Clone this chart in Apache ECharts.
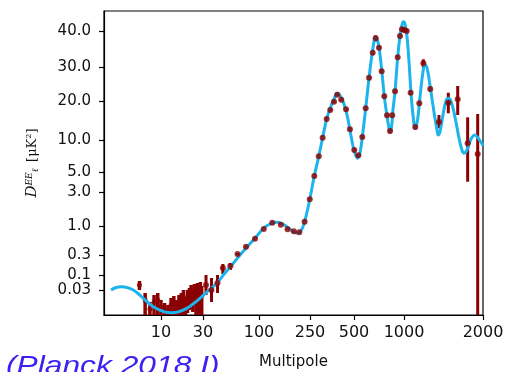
<!DOCTYPE html>
<html>
<head>
<meta charset="utf-8">
<script src="https://cdn.jsdelivr.net/npm/echarts@6/dist/echarts.min.js"></script>
<style>html,body{margin:0;padding:0;background:#fff}#c{width:505px;height:372px}</style>
</head>
<body>
<div id="c"></div>
<script>
// ---- data (multipole ell, D_ell^EE in muK^2) ----
const tickX = [10, 30, 100, 250, 500, 1000, 2000];
const tickXLabels = ['10', '30', '100', '250', '500', '1000', '2000'];
const tickY = [0.03, 0.1, 0.3, 1, 3, 5, 10, 20, 30, 40];
const tickYLabels = ['0.03', '0.1', '0.3', '1.0', '3.0', '5.0', '10.0', '20.0', '30.0', '40.0'];

// theory curve
const curveEll = [2, 2.35, 2.82, 3.35, 4.10, 4.77, 5.66, 6.58, 7.80, 9.68, 11.1, 13.2, 15.6, 19.6, 23.1, 27.7, 33.4, 40.3, 48.1, 57.5, 66.5, 78.9, 93.8, 109, 122, 136, 151, 168, 184, 197, 209, 220, 233, 249, 267.5, 287, 305, 325, 344, 365, 384, 407.5, 427, 448, 469, 492, 510.5, 526, 543, 561, 588, 616, 648, 675, 702, 734, 761, 790, 812, 824, 841, 858, 883, 916, 946, 972, 990, 1009, 1027, 1045, 1063, 1082, 1104, 1126, 1151, 1181, 1202, 1224, 1259, 1301, 1336, 1351, 1371, 1408, 1445, 1475, 1510, 1564, 1620, 1663, 1693, 1738, 1800, 1864, 1914, 1977, 2000];
const curveD = [0.03, 0.0367, 0.0391, 0.0367, 0.03, 0.0217, 0.01397, 0.00949, 0.00644, 0.00475, 0.00396, 0.00371, 0.00396, 0.00556, 0.00826, 0.01397, 0.02736, 0.0514, 0.1116, 0.190, 0.30, 0.436, 0.633, 0.920, 1.067, 1.127, 1.084, 0.940, 0.796, 0.748, 0.779, 0.959, 1.381, 2.37, 4.51, 7.02, 10.59, 15.38, 18.21, 20.59, 22.26, 21.18, 19.23, 16.41, 12.56, 8.78, 7.23, 6.73, 7.55, 10.77, 18.13, 26.85, 34.72, 38.25, 36.39, 29.12, 21.38, 16.15, 13.08, 12.13, 13.33, 17.69, 22.85, 32.69, 38.61, 41.67, 42.58, 41.94, 38.33, 31.39, 22.65, 16.41, 13.0, 15.13, 21.18, 28.53, 30.56, 29.71, 24.12, 17.18, 12.56, 11.28, 12.05, 16.41, 20.0, 20.79, 20.0, 15.90, 10.51, 8.05, 7.50, 8.05, 10.26, 11.28, 10.51, 9.31, 8.78];

// low-ell individual multipoles (value, lower and upper end of error bar)
const lowEll = [5, 6, 7, 8, 9, 10, 11, 12, 13, 14, 15, 16, 17, 18, 19, 20, 21, 22, 23, 24, 25, 26, 27, 28, 29];
const lowD   = [0.0448, 0.01194, 0.00521, 0.00993, 0.01194, 0.00627, 0.00475, 0.00434, 0.00754, 0.00906, 0.00627, 0.00993, 0.01194, 0.01574, 0.00826, 0.0109, 0.0131, 0.01726, 0.01194, 0.0189, 0.01726, 0.01726, 0.02076, 0.0228, 0.01726];
const lowLo  = [0.03, 0.001, 0.001, 0.001, 0.001, 0.001, 0.001, 0.001, 0.001, 0.001, 0.001, 0.001, 0.001, 0.001, 0.001, 0.0036, 0.00475, 0.00627, 0.00396, 0.00688, 0.001, 0.00475, 0.001, 0.001, 0.001];
const lowHi  = [0.0618, 0.0228, 0.00993, 0.0189, 0.0228, 0.01194, 0.00906, 0.00754, 0.01436, 0.01726, 0.01194, 0.0189, 0.0228, 0.03, 0.01574, 0.03, 0.0352, 0.0448, 0.0352, 0.0486, 0.0414, 0.0526, 0.0448, 0.057, 0.0414];

// binned high-ell data
const binEll = [32, 36, 41, 46, 54, 63, 75.6, 91.8, 109, 127, 148, 167, 187, 206, 227, 249, 267.5, 287, 305, 325, 344, 365, 384, 409, 441, 469, 502, 531, 561, 588, 616, 648, 675, 707, 734, 761, 790, 824, 850, 883, 916, 946, 972, 1003, 1024, 1060, 1104, 1144, 1185, 1259, 1359, 1475, 1602, 1748, 1909];
const binD   = [0.0448, 0.03, 0.0526, 0.147, 0.164, 0.313, 0.424, 0.59, 0.883, 1.112, 1.043, 0.872, 0.80, 0.77, 1.149, 2.37, 4.51, 7.02, 10.59, 15.38, 17.69, 19.82, 21.85, 20.38, 17.87, 12.74, 8.05, 7.18, 10.77, 18.13, 26.85, 33.97, 37.97, 35.36, 28.74, 21.38, 16.33, 12.31, 16.33, 22.85, 32.69, 38.61, 40.47, 40.28, 40.0, 22.44, 13.33, 19.41, 31.03, 23.53, 14.62, 19.56, 20.5, 9.31, 7.38];
const binLo  = [0.0189, 0.00993, 0.0228, 0.1056, 0.1316, 0.30, 0.41, 0.575, 0.87, 1.10, 1.03, 0.86, 0.79, 0.76, 1.13, 2.33, 4.45, 6.9, 10.4, 15.1, 17.4, 19.5, 21.5, 20.0, 17.5, 12.4, 7.9, 7.0, 10.5, 17.8, 26.4, 33.4, 37.1, 34.8, 28.2, 21.0, 16.0, 11.7, 16.0, 22.4, 32.1, 38.0, 39.7, 39.6, 39.4, 21.9, 12.7, 18.9, 29.6, 22.8, 13.0, 16.85, 16.41, 3.9, 0.001];
const binHi  = [0.1, 0.0786, 0.1, 0.183, 0.193, 0.325, 0.44, 0.605, 0.90, 1.125, 1.056, 0.885, 0.81, 0.78, 1.17, 2.41, 4.57, 7.15, 10.8, 15.6, 18.0, 20.1, 22.2, 20.8, 18.2, 13.1, 8.2, 7.35, 11.0, 18.5, 27.3, 34.5, 38.8, 35.9, 29.3, 21.8, 16.7, 12.9, 16.7, 23.3, 33.3, 39.2, 41.2, 41.0, 40.6, 23.0, 13.9, 19.9, 32.14, 24.3, 16.41, 22.44, 24.41, 15.82, 16.67];

// ---- custom axis scales (piecewise between the tick marks) ----
const X_ANCHORS = [[2, 7], [10, 57], [30, 99], [100, 155], [250, 206], [500, 250], [1000, 300], [2000, 379]];
const Y_ANCHORS = [[0.003, 0], [0.03, 25], [0.1, 40], [0.3, 60], [1, 89], [3, 123], [5, 143], [10, 175], [20, 214], [30, 248], [40, 284]];
const X_MAX = 379, Y_MAX = 304;

function fx(l) {
  const A = X_ANCHORS; let i = 0;
  while (i < A.length - 2 && l > A[i + 1][0]) i++;
  const [l0, p0] = A[i], [l1, p1] = A[i + 1];
  return p0 + (p1 - p0) * Math.log(l / l0) / Math.log(l1 / l0);
}
function fy(d) {
  const A = Y_ANCHORS; let i = 0;
  while (i < A.length - 2 && d > A[i + 1][0]) i++;
  const [d0, p0] = A[i], [d1, p1] = A[i + 1];
  if (d0 >= 10) return p0 + (p1 - p0) * (d - d0) / (d1 - d0);
  return p0 + (p1 - p0) * Math.log(d / d0) / Math.log(d1 / d0);
}
const clampY = v => Math.max(0, Math.min(Y_MAX, v));

const RED = '#8b0000', BLUE = '#1cb4ec';

const curveData = curveEll.map((l, i) => [fx(l), fy(curveD[i])]);
const lowPts = lowEll.map((l, i) => [fx(l), fy(lowD[i])]);
const binPts = binEll.map((l, i) => [fx(l), fy(binD[i])]);
const errData = lowEll.map((l, i) => [fx(l), clampY(fy(lowLo[i])), clampY(fy(lowHi[i])), 3.5])
  .concat(binEll.map((l, i) => [fx(l), clampY(fy(binLo[i])), clampY(fy(binHi[i])), 3]));

const xTickPos = tickX.map(fx), yTickPos = tickY.map(fy);
function labelFor(pos, arr, labels) {
  for (let i = 0; i < arr.length; i++) if (Math.abs(arr[i] - pos) < 0.01) return labels[i];
  return '';
}

const chart = echarts.init(document.getElementById('c'), null, { renderer: 'canvas' });
chart.setOption({
  animation: false,
  backgroundColor: '#fff',
  grid: { left: 104, right: 22, top: 11, bottom: 57, containLabel: false, outerBoundsMode: 'none',
          show: true, borderColor: '#000', borderWidth: 1.2, backgroundColor: 'transparent' },
  xAxis: {
    type: 'value', min: 0, max: X_MAX,
    name: 'Multipole', nameLocation: 'middle', nameGap: 40,
    nameTextStyle: { fontFamily: 'DejaVu Sans', fontSize: 15, color: '#111' },
    axisLine: { show: true, onZero: false, lineStyle: { color: '#000', width: 1.2 } },
    axisTick: { show: true, length: 5, customValues: xTickPos, lineStyle: { color: '#000', width: 1.2 } },
    axisLabel: { customValues: xTickPos, margin: 10, showMinLabel: true, showMaxLabel: true,
                 hideOverlap: false, interval: 0,
                 fontFamily: 'DejaVu Sans', fontSize: 16, color: '#111',
                 formatter: v => labelFor(v, xTickPos, tickXLabels) },
    splitLine: { show: false }
  },
  yAxis: {
    type: 'value', min: 0, max: Y_MAX,
    name: '{d|D}{e|EE}{l|ℓ}  {t|[μK}{s|2}{t|]}', nameLocation: 'middle', nameGap: 64,
    nameTextStyle: {
      color: '#111',
      rich: {
        d: { fontFamily: 'DejaVu Serif', fontStyle: 'italic', fontSize: 15, color: '#111' },
        e: { fontFamily: 'DejaVu Serif', fontStyle: 'italic', fontSize: 9, verticalAlign: 'top', color: '#111' },
        l: { fontFamily: 'DejaVu Serif', fontStyle: 'italic', fontSize: 9, verticalAlign: 'bottom', color: '#111' },
        t: { fontFamily: 'DejaVu Serif', fontSize: 13, color: '#111' },
        s: { fontFamily: 'DejaVu Serif', fontSize: 8, verticalAlign: 'top', color: '#111' }
      }
    },
    axisLine: { show: true, onZero: false, lineStyle: { color: '#000', width: 1.2 } },
    axisTick: { show: true, length: 5, customValues: yTickPos, lineStyle: { color: '#000', width: 1.2 } },
    axisLabel: { customValues: yTickPos, margin: 13, showMinLabel: true, showMaxLabel: true,
                 hideOverlap: false, interval: 0,
                 fontFamily: 'DejaVu Sans', fontSize: 15, lineHeight: 13, color: '#111',
                 formatter: v => labelFor(v, yTickPos, tickYLabels) },
    splitLine: { show: false }
  },
  graphic: [{
    type: 'text', x: 6, y: 367, scaleX: 1.27, z: 100,
    style: { text: '(Planck 2018 I)', font: 'italic 25px "Liberation Sans"', fill: '#3d21f2',
             verticalAlign: 'middle', textVerticalAlign: 'middle' }
  }],
  series: [
    {
      type: 'custom', name: 'err', z: 1, clip: true,
      renderItem: (params, api) => {
        const p1 = api.coord([api.value(0), api.value(1)]);
        const p2 = api.coord([api.value(0), api.value(2)]);
        return { type: 'line', shape: { x1: p1[0], y1: p1[1], x2: p2[0], y2: p2[1] },
                 style: { stroke: RED, lineWidth: api.value(3) } };
      },
      encode: { x: 0, y: [1, 2] },
      data: errData
    },
    { type: 'scatter', name: 'low', z: 2, symbolSize: 5, itemStyle: { color: RED }, data: lowPts },
    { type: 'line', name: 'theory', z: 3, smooth: 0.4, showSymbol: false, clip: true,
      lineStyle: { color: BLUE, width: 3 }, data: curveData },
    { type: 'scatter', name: 'binned', z: 4, symbolSize: 6, itemStyle: { color: RED }, data: binPts }
  ]
});
</script>
</body>
</html>
